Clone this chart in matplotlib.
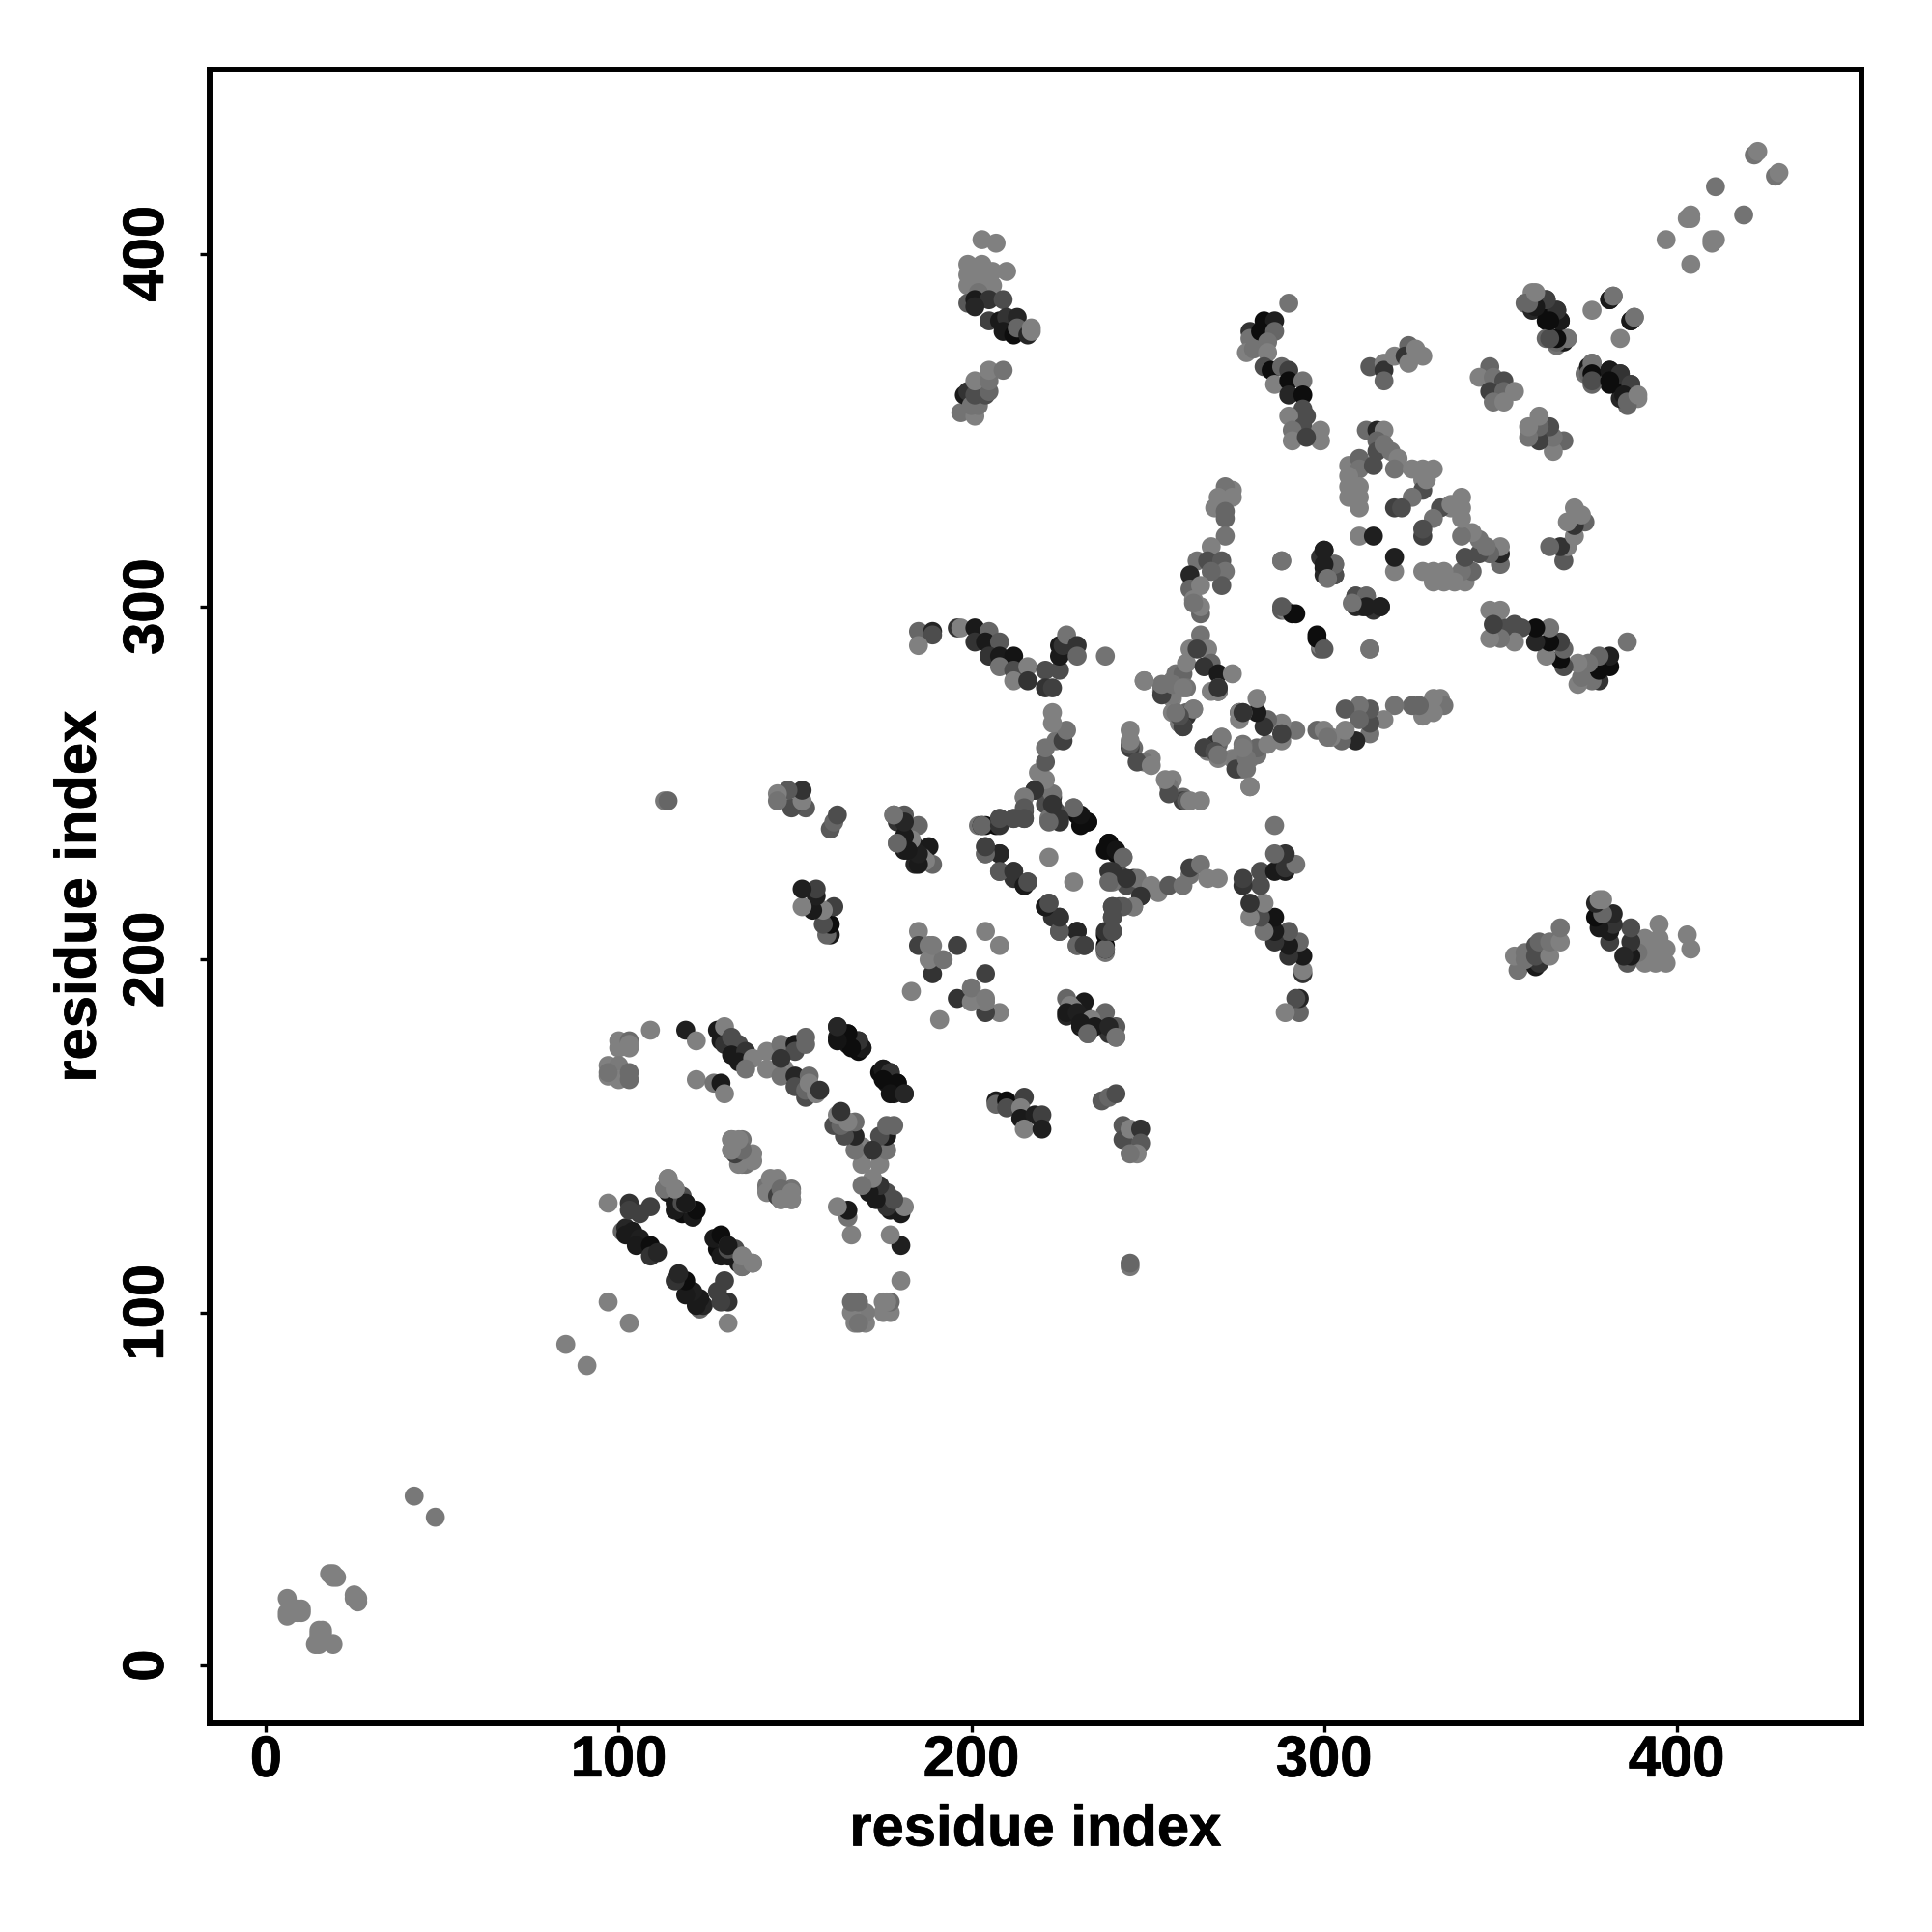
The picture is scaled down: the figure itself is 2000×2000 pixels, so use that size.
#!/usr/bin/env python3

# Contact map, each contact read as (residue, residue, gray level)
import matplotlib
matplotlib.use("Agg")
import matplotlib.pyplot as plt
import matplotlib.patheffects as pe

TICKS = [0, 100, 200, 300, 400]
AXIS_LABEL = "residue index"

ends_low = [(6, 14, .5), (6, 15, .5), (6, 19, .5), (8, 15, .5), (9, 15, .5), (10, 15, .5), (9, 16, .5), (10, 16, .5),
            (19, 25, .5), (20, 25, .5), (19, 26, .5), (18, 26, .5), (42, 48, .47), (85, 91, .5), (97, 103, .5)]
ends_high = [(397, 404, .5), (403, 410, .5), (404, 410, .5), (404, 411, .5), (411, 419, .45),
             (422, 428, .45), (423, 429, .5)]

block_100 = [(100, 177, .5), (100, 175, .5), (103, 177, .42), (103, 176, .5), (103, 175, .5), (97, 170, .5), (100, 170, .48),
             (97, 167, .5), (100, 166, .5), (103, 166, .42), (97, 168, .45), (103, 168, .42), (109, 180, .5),
             (119, 180, .12), (122, 177, .5), (122, 166, .5), (127, 165, .45), (129, 165, .1), (130, 162, .5)]
strand_128 = [(128, 180, .1), (129, 177, .1), (130, 181, .5), (130, 176, .2), (132, 178, .3), (134, 176, .3),
              (132, 173, .1), (136, 174, .2), (134, 171, .1), (138, 172, .5), (136, 169, .45)]
strand_142 = [(142, 174, .5), (142, 169, .5), (146, 176, .45), (147, 169, .5), (146, 167, .45), (150, 176, .1),
              (150, 174, .3), (146, 172, .2), (153, 178, .4), (153, 176, .4)]
strand_150 = [(150, 167, .15), (150, 164, .3), (153, 161, .3), (153, 163, .4), (154, 167, .42), (154, 165, .5),
              (156, 162, .5), (157, 163, .2)]
strand_162 = [(162, 181, .2), (162, 178, .1), (165, 179, .1), (165, 176, .1), (168, 177, .15), (168, 174, .05),
              (169, 175, .15), (175, 169, .1), (177, 168, .2), (175, 166, .05), (179, 165, .05), (177, 162, .08),
              (181, 162, .15)]
turn_97 = [(97, 131, .5), (103, 131, .2), (103, 129, .25), (106, 128, .25), (109, 130, .25),
           (113, 135, .4), (114, 134, .1), (116, 131, .1), (118, 128, .05), (121, 127, .1), (122, 129, .05),
           (119, 131, .3), (118, 133, .3), (116, 135, .45), (114, 138, .5)]
strand_102 = [(101, 123, .4), (102, 124, .15), (102, 122, .1), (104, 123, .1), (106, 121, .12), (105, 119, .1),
              (109, 119, .05), (109, 116, .2), (111, 117, .15)]
strand_113 = [(116, 129, .1), (118, 131, .3), (119, 131, .1), (113, 135, .45), (116, 135, .5), (114, 138, .5)]
patch_132 = [(132, 149, .45), (135, 149, .45), (134, 145, .2), (132, 146, .5), (137, 144, .5), (135, 142, .5),
             (136, 142, .45), (143, 138, .5), (145, 138, .5), (142, 134, .5), (145, 133, .25), (146, 135, .42),
             (146, 132, .5), (149, 134, .5), (149, 132, .5)]

patch_150 = [(207, 160, .1), (207, 159, .4), (210, 160, .05), (210, 158, .3), (215, 161, .25), (214, 158, .5),
             (214, 155, .1), (218, 156, .12), (220, 156, .25), (215, 152, .5), (220, 152, .12)]
patch_160 = [(237, 160, .35), (239, 161, .4), (241, 162, .3), (243, 153, .35), (243, 149, .3), (245, 152, .5),
             (248, 152, .2), (248, 148, .35), (247, 145, .5), (245, 145, .45), (245, 113, .47), (245, 114, .4)]
patch_183 = [(183, 191, .5), (189, 196, .2), (185, 208, .5), (185, 204, .25), (188, 204, .48), (196, 204, .25),
             (188, 200, .5), (192, 200, .45), (189, 204, .48), (204, 208, .5)]
patch_178 = [(178, 241, .4), (181, 241, .35), (179, 239, .2), (185, 238, .4), (179, 233, .45), (181, 231, .1),
             (182, 234, .45), (184, 232, .1), (181, 232, .2), (188, 232, .1), (186, 229, .5), (184, 227, .15), (189, 227, .4),
             (187, 228, .5), (185, 227, .1), (185, 230, .12), (183, 234, .5), (182, 231, .1), (181, 235, .1),
             (179, 233, .4), (181, 239, .15), (178, 241, .45)]

strand_185 = [(185, 293, .4), (189, 293, .15), (189, 292, .3), (185, 289, .5), (196, 294, .2), (197, 294, .5),
              (201, 294, .1), (201, 290, .2), (205, 293, .4), (204, 290, .1), (208, 290, .35), (205, 286, .2),
              (208, 286, .1), (212, 286, .08), (208, 283, .45), (212, 282, .3), (216, 283, .5), (212, 279, .5),
              (216, 279, .2), (221, 282, .3), (225, 282, .3), (221, 277, .2), (223, 277, .25), (225, 289, .1),
              (225, 286, .1), (226, 289, .2), (227, 292, .45), (230, 289, .2), (230, 286, .4), (238, 286, .45)]
arm_203 = [(202, 238, .45), (203, 238, .05), (207, 238, .05), (208, 240, .25), (212, 240, .3), (215, 240, .3),
           (215, 242, .3), (215, 246, .45), (218, 248, .15), (223, 246, .2), (221, 244, .3), (224, 242, .3), (222, 240, .45),
           (225, 239, .2), (223, 247, .45), (229, 243, .4), (230, 241, .05), (233, 239, .05),
           (221, 251, .5), (219, 253, .5), (221, 256, .35), (221, 260, .45), (224, 262, .45), (226, 262, .25),
           (227, 265, .45), (223, 267, .5), (223, 270, .5)]
loop_204 = [(204, 232, .35), (204, 230, .4), (208, 230, .12), (208, 225, .35), (212, 225, .25), (212, 223, .2),
            (215, 221, .1), (216, 222, .35), (222, 229, .5)]
tail_238 = [(238, 231, .05), (238, 204, .05), (238, 203, .4), (238, 208, .2), (239, 233, .05), (241, 231, .08),
            (243, 229, .4), (240, 225, .2), (239, 222, .4), (244, 223, .2), (248, 218, .2), (246, 215, .48),
            (243, 215, .35), (240, 215, .3), (240, 212, .3), (240, 208, .3), (230, 208, .15), (230, 204, .4), (232, 204, .25),
            (225, 208, .35), (225, 212, .2), (221, 215, .1), (222, 216, .3)]
patch_245 = [(245, 265, .5), (246, 260, .42), (245, 260, .25), (251, 257, .5), (249, 256, .45), (247, 256, .3),
             (245, 261, .35), (245, 262, .5), (251, 255, .5)]
patch_249 = [(249, 279, .5), (254, 277, .45), (254, 276, .45), (257, 279, .48), (257, 277, .5), (258, 281, .45),
             (260, 281, .4), (261, 284, .5), (261, 277, .45), (257, 274, .5), (263, 271, .5), (261, 270, .4),
             (261, 269, .2), (257, 270, .5), (260, 266, .35), (259, 267, .48)]
patch_264 = [(265, 292, .45), (262, 288, .5), (267, 288, .5), (264, 288, .25), (268, 284, .4), (266, 283, .2),
             (270, 281, .1), (274, 281, .5), (270, 277, .45), (270, 276, .15), (268, 276, .5),
             (276, 270, .5), (277, 270, .2), (266, 260, .25), (271, 263, .48), (269, 259, .3), (270, 258, .45),
             (275, 257, .48), (275, 254, .25), (278, 257, .45), (278, 254, .45), (279, 249, .5), (277, 260, .48)]

column_262 = [(274, 333, .5), (272, 334, .45), (274, 331, .5), (270, 331, .5), (269, 328, .5), (272, 327, .4),
              (272, 325, .4), (272, 320, .45), (268, 317, .5), (264, 313, .45), (267, 313, .3), (271, 313, .35),
              (272, 310, .45), (271, 306, .35), (268, 310, .4), (262, 309, .15), (262, 305, .4), (265, 306, .5),
              (263, 302, .5), (265, 298, .4), (265, 300, .5), (263, 301, .45)]
strand_278 = [(290, 386, .45), (283, 381, .05), (286, 381, .12), (279, 378, .2), (279, 376, .45), (282, 378, .05),
              (286, 378, .4), (284, 375, .45), (278, 372, .5), (280, 373, .45), (284, 372, .5), (283, 368, .3),
              (285, 367, .05), (288, 368, .4), (290, 367, .25), (286, 363, .5), (290, 364, .05), (294, 364, .45),
              (290, 360, .15), (294, 360, .05), (294, 356, .3), (295, 354, .3), (290, 354, .5), (294, 351, .3),
              (291, 350, .45), (291, 347, .5), (299, 350, .5), (299, 347, .5), (295, 348, .25)]
patch_288 = [(288, 313, .45), (300, 316, .12), (299, 314, .2), (300, 311, .1), (303, 312, .4), (301, 309, .35),
             (303, 309, .25), (288, 299, .35), (289, 299, .5), (291, 298, .05), (292, 298, .05), (300, 288, .35),
             (309, 303, .3), (312, 303, .4), (309, 300, .15), (312, 300, .12), (316, 300, .12), (308, 301, .45),
             (310, 320, .5), (314, 320, .12), (313, 288, .45)]
block_307 = [(312, 350, .42), (315, 350, .15), (317, 350, .5), (315, 347, .4), (315, 344, .3), (317, 346, .45),
             (319, 344, .45), (321, 342, .5), (320, 339, .45), (325, 339, .5), (328, 339, .5), (331, 339, .5),
             (307, 340, .5), (310, 342, .4), (310, 339, .45), (314, 340, .3), (307, 337, .5), (307, 334, .5),
             (310, 334, .5), (307, 331, .5), (310, 331, .5), (310, 328, .5), (328, 336, .5), (328, 333, .3),
             (325, 331, .45), (320, 328, .25), (322, 328, .3), (336, 329, .5)]
strand_313 = [(313, 368, .35), (317, 369, .5), (317, 367, .2), (317, 364, .4), (320, 371, .5), (324, 374, .4),
              (323, 371, .2), (326, 373, .5), (324, 369, .5), (328, 371, .5)]
strand_344 = [(347, 368, .4), (344, 365, .5), (348, 365, .45), (351, 364, .3), (347, 361, .25), (351, 361, .4),
              (354, 361, .5), (348, 358, .45), (351, 358, .5)]
strand_357 = [(359, 389, .5), (357, 386, .4), (359, 386, .15), (363, 387, .3), (359, 384, .15), (363, 384, .05),
              (366, 384, .2), (363, 381, .05), (367, 381, .1), (363, 376, .4), (366, 376, .1), (369, 376, .4),
              (366, 374, .45), (368, 375, .1), (376, 384, .5), (381, 387, .1), (382, 388, .45), (387, 381, .1),
              (388, 382, .45), (375, 366, .4), (376, 369, .45), (376, 366, .05), (376, 364, .3), (381, 367, .1),
              (384, 366, .2), (381, 364, .05), (387, 363, .25), (385, 360, .1), (386, 358, .4), (389, 360, .5)]

top_196 = [(199, 397, .5), (203, 397, .5), (199, 394, .5), (202, 394, .5), (206, 395, .5), (210, 395, .5), (199, 391, .5),
           (202, 391, .5), (206, 391, .5), (199, 386, .35), (202, 389, .45), (201, 387, .1), (205, 387, .2),
           (209, 387, .3), (201, 385, .15), (205, 381, .25), (208, 381, .1), (210, 382, .2), (213, 382, .15),
           (209, 378, .1), (212, 377, .05), (213, 379, .4), (216, 377, .15), (217, 379, .5), (217, 378, .5),
           (203, 404, .5), (207, 403, .5)]
low_196 = [(197, 355, .45), (198, 360, .1), (199, 361, .2), (201, 354, .5), (200, 357, .45), (202, 357, .45),
           (201, 360, .3), (204, 360, .3), (205, 361, .4), (201, 364, .5), (205, 364, .45), (205, 367, .5), (209, 367, .45)]

groups = [ends_low, ends_high, strand_185, patch_150, patch_160, patch_183, patch_178, arm_203, loop_204, tail_238,
          strand_102, turn_97, strand_113, patch_132, block_100, strand_128, strand_142, strand_150, strand_162,
          patch_245, patch_249, patch_264, column_262, strand_278, patch_288, block_307, strand_313, strand_344,
          strand_357, low_196, top_196]

x, y, c = [], [], []
for group in groups:
    for i, j, level in group:
        # the map is symmetric, every contact shows on both sides
        x += [i, j]
        y += [j, i]
        c += [str(level), str(level)]

plt.rcParams['font.family'] = ['Liberation Sans', 'DejaVu Sans']
fig = plt.figure(figsize=(20, 20), dpi=100)
ax = fig.add_axes([217 / 2000, 1 - 1784 / 2000, 1710 / 2000, 1712 / 2000])
ax.scatter(x, y, s=200, c=c, linewidths=0, zorder=2)
ax.set_xlim(-16, 452.4)
ax.set_ylim(-16.4, 452.2)
ax.set_xticks(TICKS)
ax.set_yticks(TICKS)
ax.set_xticklabels(TICKS, fontsize=43, fontweight='bold')
ax.set_yticklabels(TICKS, fontsize=43, fontweight='bold', rotation=90, va='center')
ax.tick_params(axis='x', length=6.3, width=2.4, pad=2.2)
ax.tick_params(axis='y', length=7, width=2.4, pad=19)
for side in ax.spines.values():
    side.set_linewidth(4.3)
ax.set_xlabel(AXIS_LABEL, fontsize=43, fontweight='bold', labelpad=12)
ax.set_ylabel(AXIS_LABEL, fontsize=43, fontweight='bold', labelpad=11)

# the original type is a little heavier than Liberation bold
heavier = [pe.withStroke(linewidth=0.5, foreground='black')]
for label in ax.get_xticklabels() + ax.get_yticklabels() + [ax.xaxis.label, ax.yaxis.label]:
    label.set_path_effects(heavier)

fig.savefig('out.png', dpi=100)
